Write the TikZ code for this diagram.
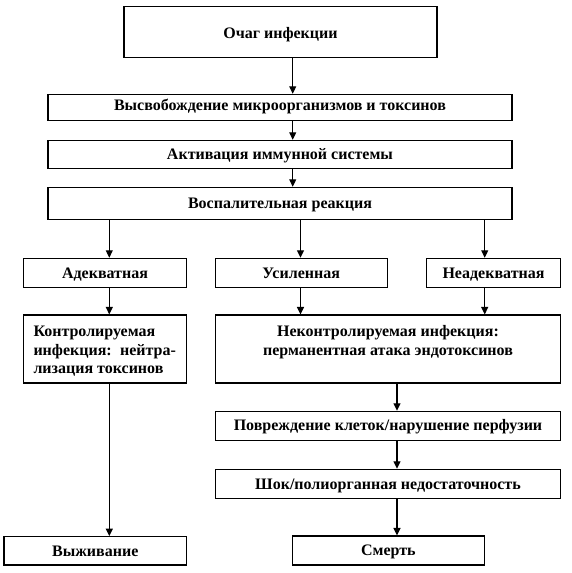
\documentclass[tikz,border=0pt]{standalone}
\usepackage{fontspec}
\setmainfont{Liberation Serif}
\usetikzlibrary{arrows.meta}
\begin{document}
\begin{tikzpicture}[x=1pt,y=-1pt,
  box/.style={draw, line width=1.1pt, inner sep=0pt, text height=11pt, text depth=0pt,
    font=\fontsize{16}{18.3}\selectfont\bfseries},
  frame/.style={draw, line width=1.1pt, inner sep=0pt},
  arr/.style={line width=1.1pt, -{Triangle[length=7.5pt,width=7pt]}},
  txt/.style={inner sep=0pt, font=\fontsize{16}{18.3}\selectfont\bfseries}]
\useasboundingbox (0,0) rectangle (572,573);
% boxes: centre x, centre y, width, height
\node[box, text height=14pt, minimum width=313, minimum height=51.3] (b1) at (280.5,31.7) {Очаг инфекции};
\node[box, text height=8pt, text depth=2.6pt, minimum width=464, minimum height=26] (b2) at (280,107.3) {Высвобождение микроорганизмов и токсинов};
\node[box, minimum width=464, minimum height=28] (b3) at (280,154.3) {Активация иммунной системы};
\node[box, minimum width=464, minimum height=32] (b4) at (280,203.3) {Воспалительная реакция};
\node[box, minimum width=163.4, minimum height=29] (ad) at (105,272.8) {Адекватная};
\node[box, minimum width=171.7, minimum height=29] (us) at (301.2,272.8) {Усиленная};
\node[box, minimum width=134.5, minimum height=29] (nd) at (493.5,272.8) {Неадекватная};
\node[frame, minimum width=163.4, minimum height=68] (kt) at (105,349) {};
\node[txt, anchor=north west, text width=142.4pt, align=justify] (ktt) at (33.3,324.7)
  {\rule{0pt}{12pt}Контролируемая\\ инфекция:\hfill нейтра-\\ лизация токсинов};
\node[frame, minimum width=345.4, minimum height=68] (nk) at (388,349) {};
\node[txt, anchor=north, align=center] (nkt) at (388,324.7)
  {\rule{0pt}{12pt}Неконтролируемая инфекция:\\ перманентная атака эндотоксинов};
\node[box, text height=10pt, minimum width=345.4, minimum height=29] (pv) at (388,425.8) {Повреждение клеток/нарушение перфузии};
\node[box, text height=10.5pt, minimum width=345.4, minimum height=29] (sh) at (388,483.8) {Шок/полиорганная недостаточность};
\node[box, text height=12pt, minimum width=182.7, minimum height=28.3] (vy) at (95.3,550.8) {Выживание};
\node[box, text height=10.5pt, minimum width=192.2, minimum height=29] (sm) at (388.4,550.5) {Смерть};
% x positions of connectors
\coordinate (xa) at (292.7,0);
\coordinate (xl) at (109.3,0);
\coordinate (xm) at (300.5,0);
\coordinate (xr) at (484.7,0);
\coordinate (xs) at (397,0);
\draw[arr] (b1.south -| xa) -- (b2.north -| xa);
\draw[arr] (b2.south -| xa) -- (b3.north -| xa);
\draw[arr] (b3.south -| xa) -- (b4.north -| xa);
\draw[arr] (b4.south -| xl) -- (ad.north -| xl);
\draw[arr] (b4.south -| xm) -- (us.north -| xm);
\draw[arr] (b4.south -| xr) -- (nd.north -| xr);
\draw[arr] (ad.south -| xl) -- (kt.north -| xl);
\draw[arr] (us.south -| xm) -- (nk.north -| xm);
\draw[arr] (nd.south -| xr) -- (nk.north -| xr);
\draw[arr] (kt.south -| xl) -- (vy.north -| xl);
\draw[arr] (nk.south -| xs) -- (pv.north -| xs);
\draw[arr] (pv.south -| xs) -- (sh.north -| xs);
\draw[arr] (sh.south -| xs) -- (sm.north -| xs);
\end{tikzpicture}
\end{document}
